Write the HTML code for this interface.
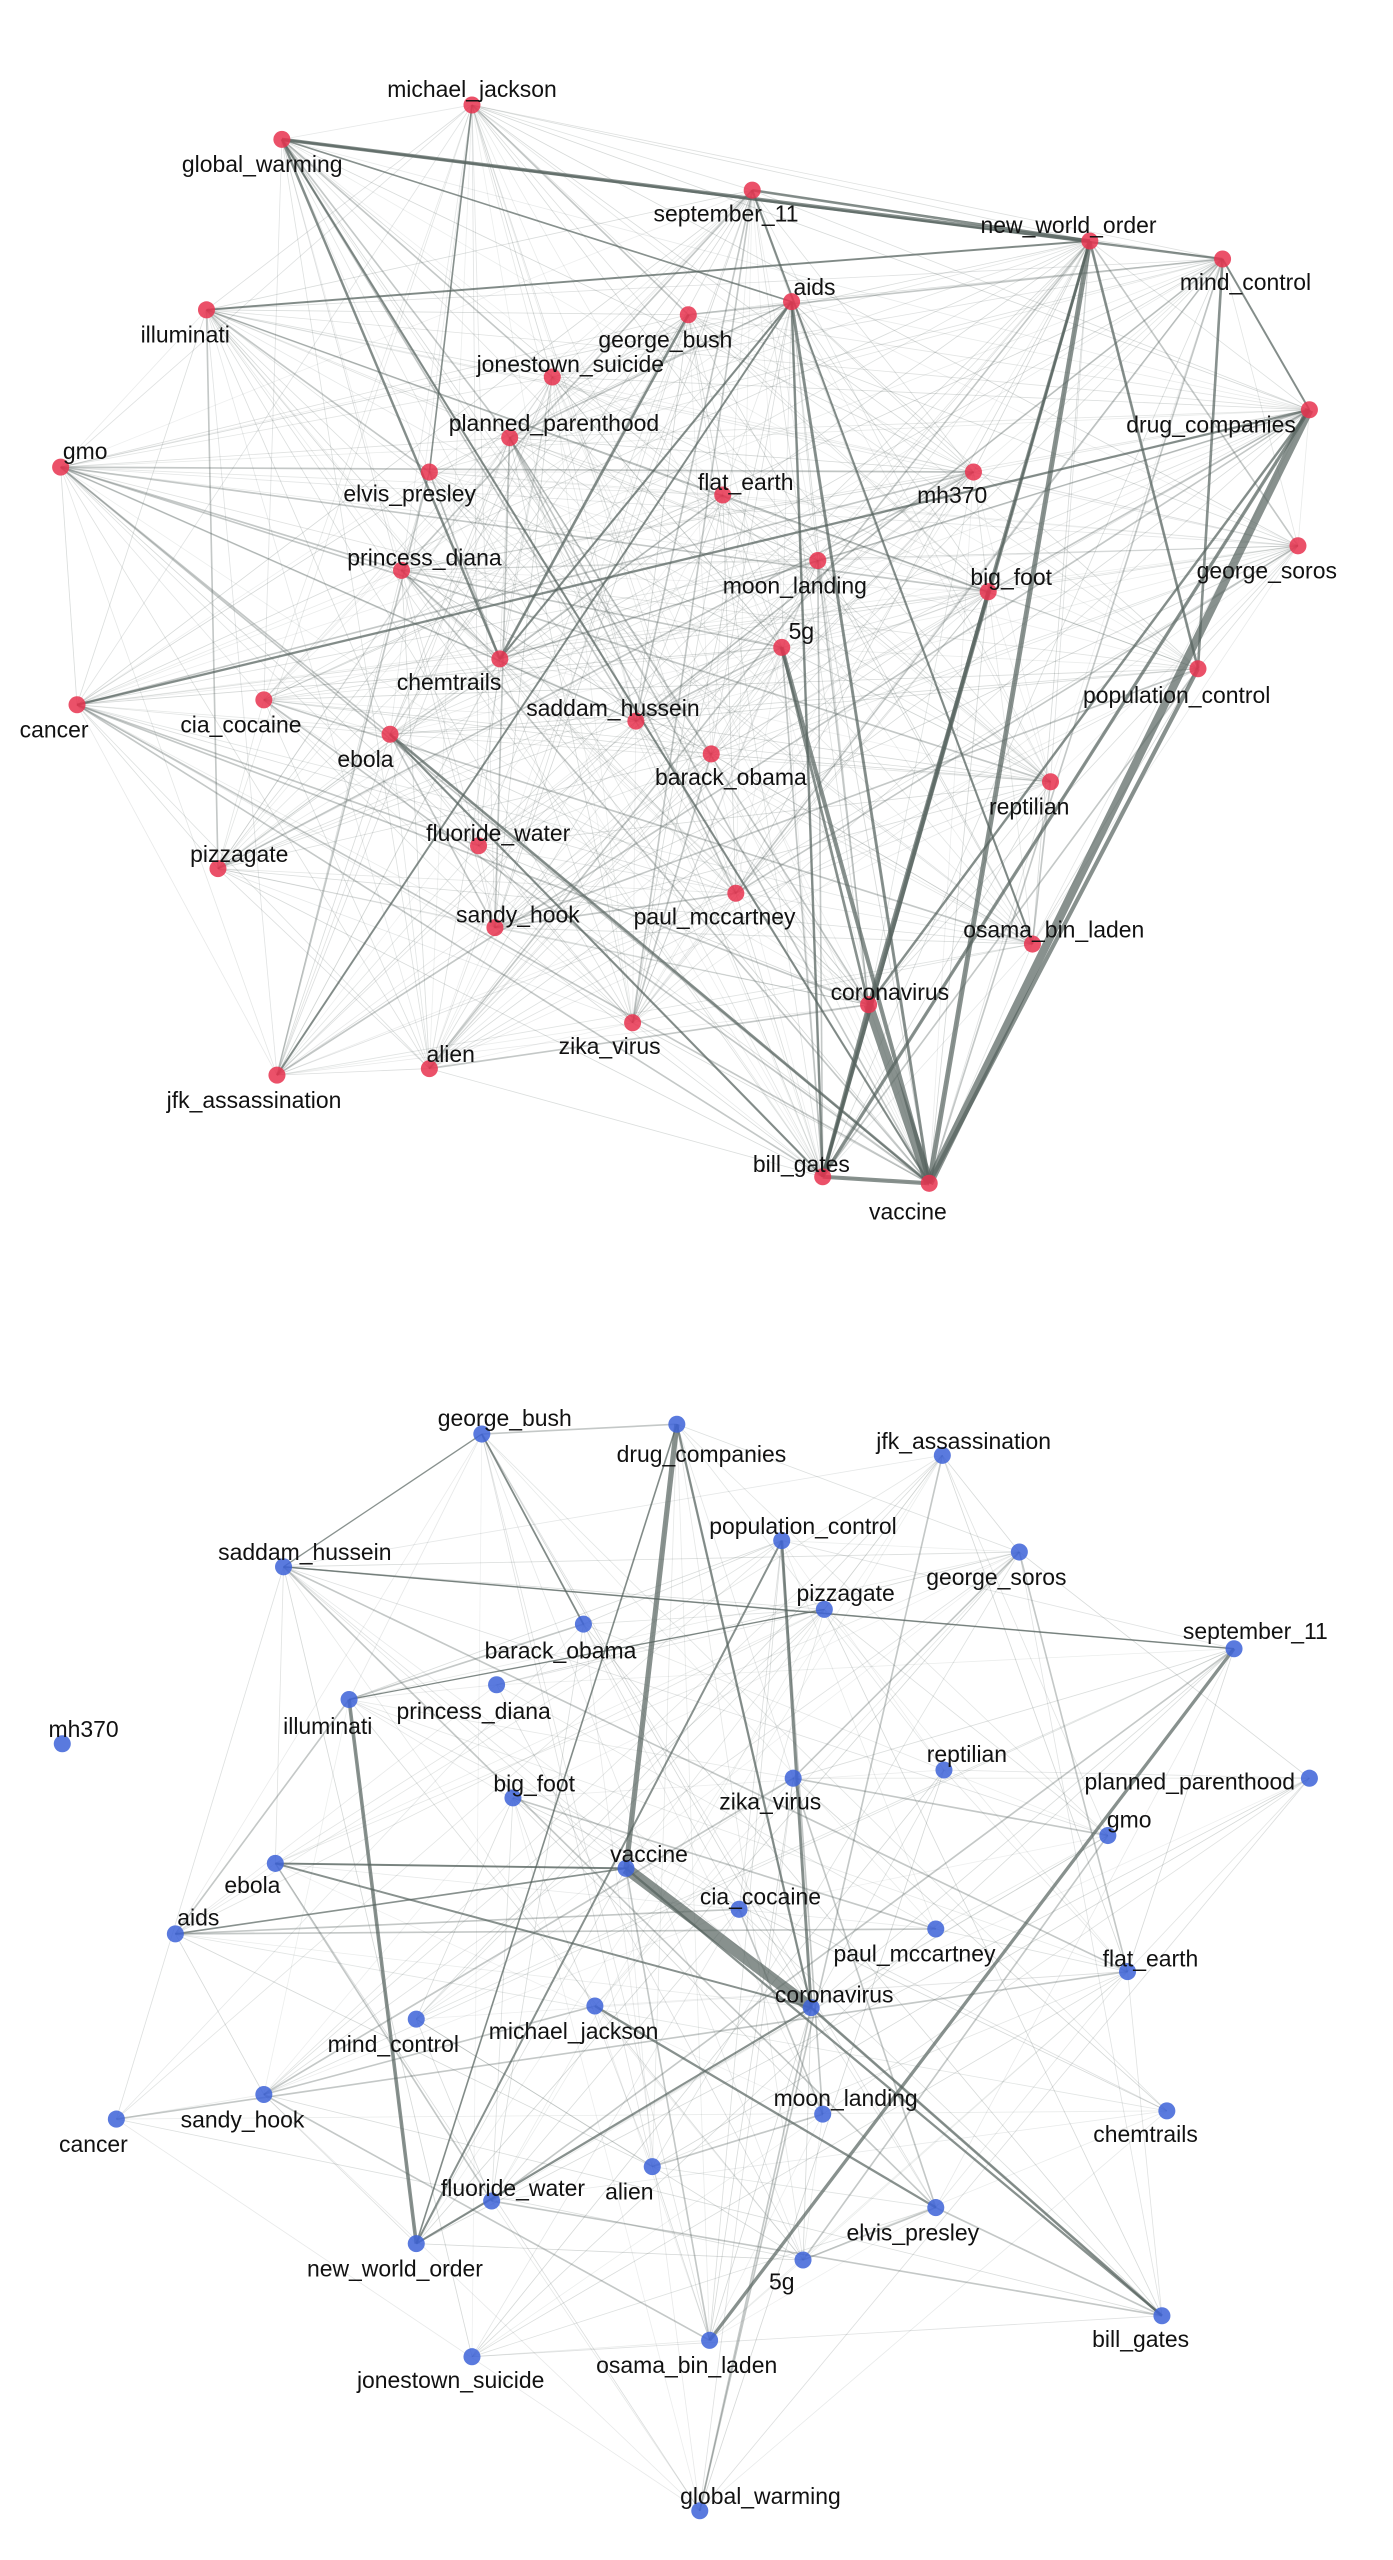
<!DOCTYPE html>
<html><head><meta charset="utf-8"><style>
html,body{margin:0;padding:0;background:#fff;width:1393px;height:2560px;overflow:hidden}
svg{display:block}
text{font-family:"Liberation Sans",sans-serif;font-size:14px;fill:#111;text-anchor:middle}
</style></head><body>
<svg id="s" width="1393" height="2560" viewBox="0 0 850 1562" xmlns="http://www.w3.org/2000/svg">
<g id="e"></g><g id="n"></g><g id="t"></g>
</svg>
<script>
var A={michael_jackson:[288,64,288,56],global_warming:[172,85,160,102],september_11:[459,116,443,132],new_world_order:[665,147,652,139],mind_control:[746,158,760,174],aids:[483,184,497,177],illuminati:[126,189,113,206],george_bush:[420,192,406,209],jonestown_suicide:[337,230,348,224],planned_parenthood:[311,267,338,260],drug_companies:[799,250,739,261],gmo:[37,285,52,277],elvis_presley:[262,288,250,303],flat_earth:[441,302,455,296],mh370:[594,288,581,304],princess_diana:[245,348,259,342],george_soros:[792,333,773,350],moon_landing:[499,342,485,359],big_foot:[603,361,617,354],"5g":[477,395,489,387],chemtrails:[305,402,274,418],population_control:[731,408,718,426],cancer:[47,430,33,447],cia_cocaine:[161,427,147,444],saddam_hussein:[388,440,374,434],ebola:[238,448,223,465],barack_obama:[434,460,446,476],reptilian:[641,477,628,494],fluoride_water:[292,516,304,510],pizzagate:[133,530,146,523],paul_mccartney:[449,545,436,561],sandy_hook:[302,566,316,560],osama_bin_laden:[630,576,643,569],coronavirus:[530,613,543,607],zika_virus:[386,624,372,640],alien:[262,652,275,645],jfk_assassination:[169,656,155,673],bill_gates:[502,718,489,712],vaccine:[567,722,554,741]};
var B={george_bush:[294,875,308,867],drug_companies:[413,869,428,889],jfk_assassination:[575,888,588,881],population_control:[477,940,490,933],george_soros:[622,947,608,964],saddam_hussein:[173,956,186,949],pizzagate:[503,982,516,974],barack_obama:[356,991,342,1009],september_11:[753,1006,766,997],princess_diana:[303,1028,289,1046],illuminati:[213,1037,200,1055],mh370:[38,1064,51,1057],reptilian:[576,1080,590,1072],planned_parenthood:[799,1085,726,1089],big_foot:[313,1097,326,1090],zika_virus:[484,1085,470,1101],gmo:[676,1120,689,1112],ebola:[168,1137,154,1152],vaccine:[382,1140,396,1133],cia_cocaine:[451,1165,464,1159],aids:[107,1180,121,1172],paul_mccartney:[571,1177,558,1194],flat_earth:[688,1203,702,1197],coronavirus:[495,1225,509,1219],michael_jackson:[363,1224,350,1241],mind_control:[254,1232,240,1249],moon_landing:[502,1290,516,1282],sandy_hook:[161,1278,148,1295],cancer:[71,1293,57,1310],chemtrails:[712,1288,699,1304],alien:[398,1322,384,1339],fluoride_water:[300,1343,313,1337],elvis_presley:[571,1347,557,1364],new_world_order:[254,1369,241,1386],"5g":[490,1379,477,1394],bill_gates:[709,1413,696,1429],osama_bin_laden:[433,1428,419,1445],jonestown_suicide:[288,1438,275,1454],global_warming:[427,1532,464,1525]};
var NS="http://www.w3.org/2000/svg",E=document.getElementById('e'),N=document.getElementById('n'),T=document.getElementById('t');
var seed=7;function r(){seed=(seed*16807)%2147483647;return seed/2147483647;}
function line(a,b,w,o){var l=document.createElementNS(NS,'line');l.setAttribute('x1',a[0]);l.setAttribute('y1',a[1]);l.setAttribute('x2',b[0]);l.setAttribute('y2',b[1]);l.setAttribute('stroke','#55625e');l.setAttribute('stroke-width',w);l.setAttribute('stroke-opacity',o);E.appendChild(l);}
function draw(G,density,strong,col){
 var k=Object.keys(G);
 for(var i=0;i<k.length;i++)for(var j=i+1;j<k.length;j++){
  if(k[i]=='mh370'&&G===B||k[j]=='mh370'&&G===B)continue;
  var x=r();if(x<density){var m=r();line(G[k[i]],G[k[j]],m<0.12?1.0:0.5,m<0.12?0.35:0.1+0.15*r());}
 }
 strong.forEach(function(s){line(G[s[0]],G[s[1]],s[2],0.7);});
 k.forEach(function(n){var p=G[n];var c=document.createElementNS(NS,'circle');c.setAttribute('cx',p[0]);c.setAttribute('cy',p[1]);c.setAttribute('r',5.2);c.setAttribute('fill',col);c.setAttribute('fill-opacity',0.85);N.appendChild(c);
 var t=document.createElementNS(NS,'text');t.setAttribute('x',p[2]);t.setAttribute('y',p[3]+3);t.textContent=n;T.appendChild(t);});
}
draw(A,0.72,[["global_warming","new_world_order",2.2],["global_warming","mind_control",1.4],["new_world_order","vaccine",3],["new_world_order","bill_gates",1.6],["new_world_order","coronavirus",1.8],["new_world_order","population_control",1.6],["drug_companies","vaccine",5],["drug_companies","bill_gates",2],["drug_companies","coronavirus",1.5],["population_control","vaccine",2.5],["coronavirus","vaccine",6],["5g","vaccine",2.5],["5g","coronavirus",1.6],["bill_gates","vaccine",2.5],["bill_gates","coronavirus",2.2],["aids","vaccine",1.8],["big_foot","bill_gates",2.2],["aids","bill_gates",1.5],["chemtrails","george_bush",1.6],["chemtrails","aids",1.3],["cancer","drug_companies",1.4],["ebola","vaccine",1.6],["jfk_assassination","aids",1.2],["illuminati","new_world_order",1.2],["global_warming","chemtrails",1.5],["global_warming","vaccine",1.3],["mind_control","population_control",1.6],["september_11","osama_bin_laden",1.3],["september_11","new_world_order",1.6],["mind_control","drug_companies",1.2],["ebola","bill_gates",1.3],["global_warming","aids",1.0],["michael_jackson","elvis_presley",1.0]],'#e8334f');
seed=99;
draw(B,0.3,[["vaccine","coronavirus",7],["drug_companies","vaccine",3.2],["illuminati","new_world_order",2.2],["september_11","osama_bin_laden",2],["population_control","coronavirus",1.8],["drug_companies","coronavirus",1.4],["coronavirus","bill_gates",1.6],["vaccine","bill_gates",1.4],["michael_jackson","elvis_presley",1.4],["ebola","coronavirus",1.2],["ebola","vaccine",1.2],["coronavirus","new_world_order",1.3],["george_bush","barack_obama",1.1],["george_bush","saddam_hussein",0.8],["population_control","new_world_order",1.2],["drug_companies","new_world_order",1.0],["aids","vaccine",1.0],["saddam_hussein","september_11",0.8],["illuminati","pizzagate",0.8]],'#3d63d8');
</script>
</body></html>
